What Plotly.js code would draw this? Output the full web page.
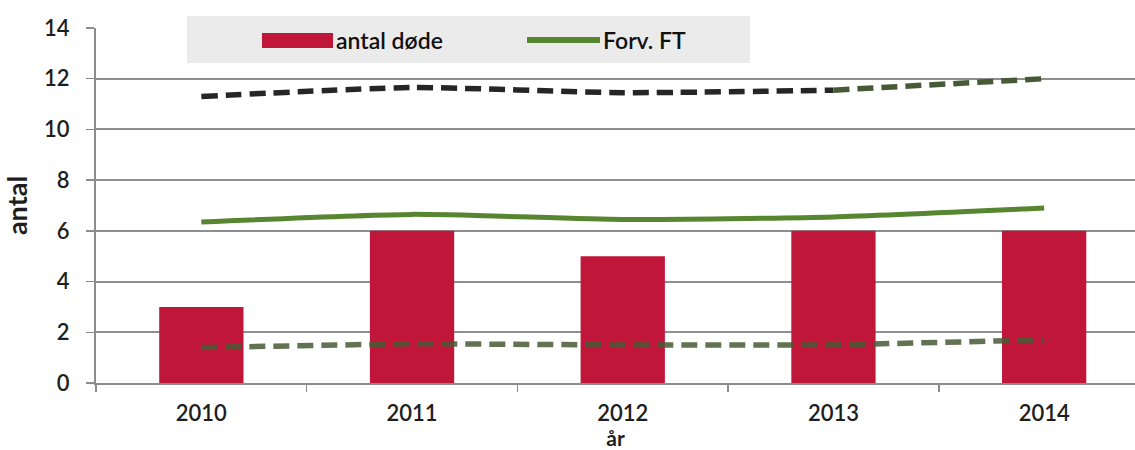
<!DOCTYPE html>
<html>
<head>
<meta charset="utf-8">
<script src="https://cdn.plot.ly/plotly-3.0.1.min.js"></script>
<style>html,body{margin:0;padding:0;background:#fff;}#chart{width:1135px;height:450px;}</style>
</head>
<body>
<div id="chart"></div>
<script>
// ---- data ----
const years = ['2010', '2011', '2012', '2013', '2014'];
const deaths = [3, 6, 5, 6, 6];                 // antal døde
const expected = [6.35, 6.65, 6.45, 6.55, 6.9];  // Forv. FT
const upperLimit = [11.3, 11.65, 11.45, 11.55, 12.0];
const lowerLimit = [1.4, 1.55, 1.5, 1.5, 1.7];
const yTicks = [0, 2, 4, 6, 8, 10, 12, 14];
const legendNames = ['antal døde', 'Forv. FT'];

// ---- colours ----
const barColor = '#c0163a';
const lineGreen = '#578530';
const darkDash = '#262626';
const greenDash = '#465a36';

const font = 'Lato, "Open Sans", sans-serif';

const traces = [
  {type: 'bar', x: years, y: deaths, name: legendNames[0], width: 0.4,
   marker: {color: barColor}, hoverinfo: 'x+y'},
  {type: 'scatter', mode: 'lines', x: years, y: lowerLimit, name: 'nedre',
   line: {color: greenDash, width: 5.5, dash: '16px,8px'}, opacity: 0.85},
  {type: 'scatter', mode: 'lines', x: years, y: expected, name: legendNames[1],
   line: {color: lineGreen, width: 5, shape: 'spline', smoothing: 0.6}},
  {type: 'scatter', mode: 'lines', x: years.slice(0, 4), y: upperLimit.slice(0, 4), name: 'øvre',
   line: {color: darkDash, width: 5.5, dash: '16px,8px', shape: 'spline', smoothing: 0.6}},
  {type: 'scatter', mode: 'lines', x: years.slice(3), y: upperLimit.slice(3), name: 'øvre',
   line: {color: greenDash, width: 5.5, dash: '16px,8px'}}
];

// plot area in pixels: x 96..1135, y 28..383
const L = 96, R = 1135, T = 28, B = 383;
const px = v => (v - L) / (R - L);
const py = v => (B - v) / (B - T);

const tickFont = {family: font, size: 22, color: '#1e1e1e', weight: 600};

const layout = {
  width: 1135, height: 450,
  margin: {l: L, r: 1135 - R, t: T, b: 450 - B},
  paper_bgcolor: '#fff', plot_bgcolor: '#fff',
  showlegend: false,
  font: {family: font, color: '#222', size: 18},
  xaxis: {
    type: 'category', range: [-0.5, -0.5 + (R - L) / 210.7],
    showgrid: false, showline: true, linecolor: '#8c8c8c', linewidth: 2,
    ticks: 'outside', tickson: 'boundaries', ticklen: 7, tickcolor: '#8c8c8c', tickwidth: 1.5,
    ticklabelstandoff: 10,
    tickfont: tickFont,
    title: {text: '<b>år</b>', font: {family: font, size: 21, color: '#1e1e1e'}, standoff: 5},
    zeroline: false, fixedrange: true
  },
  yaxis: {
    range: [0, 14], tickvals: yTicks, ticktext: yTicks.map(String),
    showgrid: true, gridcolor: '#8f8f8f', gridwidth: 2,
    showline: true, linecolor: '#8c8c8c', linewidth: 2,
    ticks: 'outside', ticklen: 8, tickcolor: '#8c8c8c', tickwidth: 1.5,
    ticklabelstandoff: 12,
    tickfont: tickFont,
    title: {text: '<b>antal</b>', font: {family: font, size: 27, color: '#1e1e1e'}, standoff: 16},
    zeroline: false, fixedrange: true
  },
  shapes: [
    {type: 'rect', xref: 'paper', yref: 'paper', x0: px(187), x1: px(750), y0: py(63), y1: py(16),
     fillcolor: '#ebebeb', line: {width: 0}, layer: 'above'},
    {type: 'rect', xref: 'paper', yref: 'paper', x0: px(262), x1: px(333), y0: py(48), y1: py(33),
     fillcolor: barColor, line: {width: 0}, layer: 'above'},
    {type: 'line', xref: 'paper', yref: 'paper', x0: px(527), x1: px(600), y0: py(40), y1: py(40),
     line: {color: lineGreen, width: 6}, layer: 'above'}
  ],
  annotations: [
    {xref: 'paper', yref: 'paper', x: px(334), y: py(40), xanchor: 'left', yanchor: 'middle',
     text: legendNames[0], showarrow: false, font: {family: font, size: 23, color: '#111', weight: 600}},
    {xref: 'paper', yref: 'paper', x: px(601), y: py(40), xanchor: 'left', yanchor: 'middle',
     text: legendNames[1], showarrow: false, font: {family: font, size: 23, color: '#111', weight: 600}}
  ]
};

Plotly.newPlot('chart', traces, layout, {displayModeBar: false, staticPlot: true});
</script>
</body>
</html>
